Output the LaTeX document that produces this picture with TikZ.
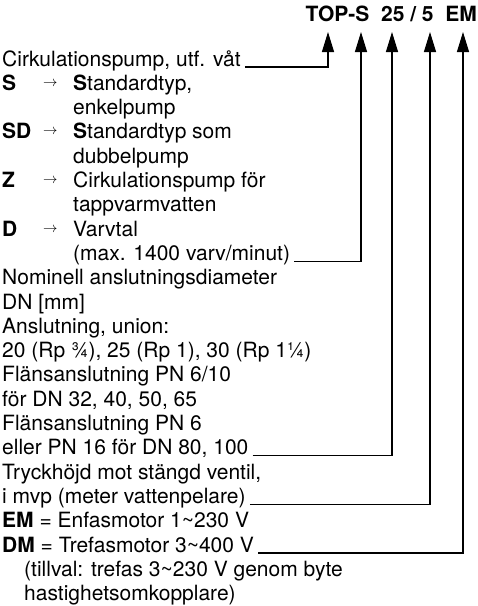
\documentclass[tikz,border=0pt]{standalone}
\usepackage{fontspec}
\setmainfont{TeX Gyre Heros}
\usetikzlibrary{arrows.meta}
\begin{document}
\begin{tikzpicture}[x=1pt,y=-1pt,
  txt/.style={anchor=base west, inner sep=0pt, font=\fontsize{21}{24}\selectfont},
  ttl/.style={anchor=base east, inner sep=0pt, font=\fontsize{21}{24}\selectfont\bfseries},
  arr/.style={anchor=base west, inner sep=0pt, font=\fontsize{15}{18}\selectfont},
  conn/.style={draw=black, line width=1.2pt, -{Triangle[length=20pt,width=12pt]}},
]
\useasboundingbox (0,0) rectangle (478,606);
% title
\node[ttl] (title) at (477,21) {TOP-S\ \ 25 / 5\ \ EM};
\coordinate (t1) at (328,32);
\coordinate (t2) at (361,32);
\coordinate (t3) at (392,32);
\coordinate (t4) at (430,32);
\coordinate (t5) at (463,32);
% lines
\node[txt] (cirk) at (2,66) {Cirkulationspump, utf. våt};
\node[txt] (kS) at (2,90.3) {\textbf{S}};
\node[arr] (aS) at (43,90.3) {\raisebox{4pt}{$\rightarrow$}};
\node[txt] (s1) at (73,90.3) {\textbf{S}tandardtyp,};
\node[txt] (s2) at (73,114.6) {enkelpump};
\node[txt] (kSD) at (2,138.9) {\textbf{SD}};
\node[arr] (aSD) at (43,138.9) {\raisebox{4pt}{$\rightarrow$}};
\node[txt] (sd1) at (73,138.9) {\textbf{S}tandardtyp som};
\node[txt] (sd2) at (73,163.2) {dubbelpump};
\node[txt] (kZ) at (2,187.5) {\textbf{Z}};
\node[arr] (aZ) at (43,187.5) {\raisebox{4pt}{$\rightarrow$}};
\node[txt] (z1) at (73,187.5) {Cirkulationspump för};
\node[txt] (z2) at (73,211.8) {tappvarmvatten};
\node[txt] (kD) at (2,236.1) {\textbf{D}};
\node[arr] (aD) at (43,236.1) {\raisebox{4pt}{$\rightarrow$}};
\node[txt] (d1) at (73,236.1) {Varvtal};
\node[txt] (maxv) at (73,260.4) {(max. 1400 varv/minut)};
\node[txt] (n1) at (2,284.7) {Nominell anslutningsdiameter};
\node[txt] (n2) at (2,309.0) {DN [mm]};
\node[txt] (n3) at (2,333.3) {Anslutning, union:};
\node[txt] (n4) at (2,357.6) {20 (Rp ¾), 25 (Rp 1), 30 (Rp 1¼)};
\node[txt] (n5) at (2,381.9) {Flänsanslutning PN 6/10};
\node[txt] (n6) at (2,406.2) {för DN 32, 40, 50, 65};
\node[txt] (n7) at (2,430.5) {Flänsanslutning PN 6};
\node[txt] (eller) at (2,454.8) {eller PN 16 för DN 80, 100};
\node[txt] (tr1) at (2,479.1) {Tryckhöjd mot stängd ventil,};
\node[txt] (mvp) at (2,503.4) {i mvp (meter vattenpelare)};
\node[txt] (em) at (2,527.7) {\textbf{EM} = Enfasmotor 1\textasciitilde230 V};
\node[txt] (dm) at (2,552.0) {\textbf{DM} = Trefasmotor 3\textasciitilde400 V};
\node[txt] (tv1) at (24,576.3) {(tillval: trefas 3\textasciitilde230 V genom byte};
\node[txt] (tv2) at (24,600.6) {hastighetsomkopplare)};
% connectors
\draw[conn] ([xshift=4pt,yshift=-1pt]cirk.base east) -| (t1);
\draw[conn] ([xshift=4pt,yshift=-1pt]maxv.base east) -| (t2);
\draw[conn] ([xshift=4pt,yshift=-1pt]eller.base east) -| (t3);
\draw[conn] ([xshift=4pt,yshift=-1pt]mvp.base east) -| (t4);
\draw[conn] ([xshift=4pt,yshift=-1pt]dm.base east) -| (t5);
\end{tikzpicture}
\end{document}
